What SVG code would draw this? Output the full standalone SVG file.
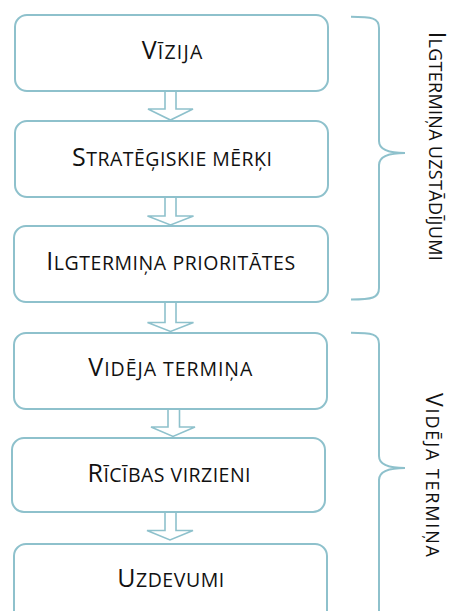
<svg xmlns="http://www.w3.org/2000/svg" width="454" height="611" viewBox="0 0 454 611">
<style>
.box{fill:#fff;stroke:#8EC1CC;stroke-width:2}
.arr{fill:#fff;stroke:#8EC1CC;stroke-width:1.6;stroke-linejoin:miter}
.brace{fill:none;stroke:#8EC1CC;stroke-width:2}
.t{font-family:"Open Sans","Noto Sans","DejaVu Sans",sans-serif;font-size:25px;fill:#111;text-anchor:middle}
.s{font-size:19.5px;text-transform:uppercase}
.v{font-size:23px}
.v .s{font-size:18px}
</style>
<rect width="454" height="611" fill="#fff"/>
<g id="connectors">
<polygon class="arr" points="165,91 176,91 176,109 193,109 170.5,120 148,109 165,109"/>
<polygon class="arr" points="165,197 176,197 176,216 193.5,216 170.5,225 147.5,216 165,216"/>
<polygon class="arr" points="165,302 176,302 176,322.5 193.5,322.5 170.5,331.5 147.5,322.5 165,322.5"/>
<polygon class="arr" points="168,409 179.5,409 179.5,427 195,427 173,436.5 151,427 168,427"/>
<polygon class="arr" points="165,512 176,512 176,530.5 193,530.5 170,540 147,530.5 165,530.5"/>
</g>
<g id="n1"><rect class="box" x="15" y="15" width="313" height="76" rx="12"/><text class="t" x="172" y="59" textLength="60.6" lengthAdjust="spacing">V<tspan class="s">īzija</tspan></text></g>
<g id="n2"><rect class="box" x="15" y="121" width="313" height="76" rx="12"/><text class="t" x="172" y="166" textLength="200" lengthAdjust="spacing">S<tspan class="s">tratēģiskie mērķi</tspan></text></g>
<g id="n3"><rect class="box" x="14" y="226" width="314" height="76" rx="12"/><text class="t" x="170.7" y="270" textLength="249" lengthAdjust="spacing">I<tspan class="s">lgtermiņa prioritātes</tspan></text></g>
<g id="n4"><rect class="box" x="14" y="333" width="313" height="76" rx="12"/><text class="t" x="170.3" y="375.7" textLength="164" lengthAdjust="spacing">V<tspan class="s">idēja termiņa</tspan></text></g>
<g id="n5"><rect class="box" x="12" y="438" width="313" height="74" rx="12"/><text class="t" x="169" y="481.5" textLength="163" lengthAdjust="spacing">R<tspan class="s">īcības virzieni</tspan></text></g>
<g id="n6"><rect class="box" x="14" y="544" width="313" height="84" rx="12"/><text class="t" x="170.7" y="587" textLength="107" lengthAdjust="spacing">U<tspan class="s">zdevumi</tspan></text></g>
<g id="brace1">
<path class="brace" d="M351,16.7 C372,16.7 379,18 379,28 L379,141 C379,151 392,153 405,153 C392,153 379,155 379,165 L379,288 C379,298 372,299.5 351,299.5"/>
<text class="t v" transform="translate(428.5,146.2) rotate(90)" textLength="229" lengthAdjust="spacing">I<tspan class="s">lgtermiņa uzstādījumi</tspan></text>
</g>
<g id="brace2">
<path class="brace" d="M351,332.7 C372,332.7 379,334 379,344 L379,456 C379,466 392,468 405,468 C392,468 379,470 379,480 L379,620"/>
<text class="t v" transform="translate(425.5,475) rotate(90)" textLength="164" lengthAdjust="spacing">V<tspan class="s">idēja termiņa</tspan></text>
</g>
</svg>
